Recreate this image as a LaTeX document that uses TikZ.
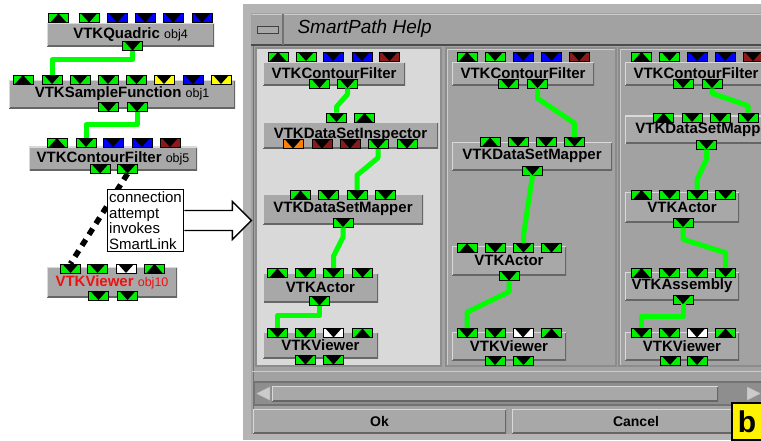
\documentclass[tikz,border=0pt]{standalone}
\usepackage{fontspec}
\setmainfont{Liberation Sans}

\definecolor{pgreen}{HTML}{00EE00}
\definecolor{wgreen}{HTML}{00FF00}
\definecolor{pblue}{HTML}{0000FF}
\definecolor{pyel}{HTML}{FFFF00}
\definecolor{pred}{HTML}{8B1A1A}
\definecolor{porng}{HTML}{FF8000}
\definecolor{modgray}{HTML}{A8A8A8}
\definecolor{wingray}{HTML}{A2A2A2}
\definecolor{lightpanel}{HTML}{D9D9D9}
\definecolor{framegray}{HTML}{B4B4B4}
\definecolor{troughgray}{HTML}{8E8E8E}
\definecolor{vred}{HTML}{F01010}

\newcommand{\objn}[1]{{\mdseries\fontsize{12.5}{13}\selectfont #1}}

\tikzset{
  port/.style={draw=black, line width=0.6pt, fill=#1, minimum width=20pt,
    minimum height=9pt, inner sep=0pt},
  pdn/.style={port=#1, path picture={\fill[black]
      ([xshift=2pt]path picture bounding box.north west) --
      ([xshift=-2pt]path picture bounding box.north east) --
      (path picture bounding box.south) -- cycle;}},
  pup/.style={port=#1, path picture={\fill[black]
      ([xshift=2pt]path picture bounding box.south west) --
      ([xshift=-2pt]path picture bounding box.south east) --
      (path picture bounding box.north) -- cycle;}},
  bevel/.style={path picture={
      \draw[line width=3pt, black!60] (path picture bounding box.south west) --
        (path picture bounding box.south east) -- (path picture bounding box.north east);
      \draw[line width=2pt, white!85!black] (path picture bounding box.south west) --
        (path picture bounding box.north west) -- (path picture bounding box.north east);}},
  module/.style 2 args={bevel, fill=modgray, minimum width=#1pt, minimum height=#2pt,
    inner sep=0pt, font=\fontsize{15}{16}\selectfont\bfseries},
  wire/.style={wgreen, line width=5pt, line join=round},
  note/.style={draw=black, line width=1.2pt, fill=white, align=left, inner sep=2pt,
    font=\fontsize{15}{15.5}\selectfont},
  bigarrow/.style={draw=black, line width=1.4pt, fill=white, line join=miter},
  btn/.style 2 args={module={#1}{#2}, font=\fontsize{14}{14}\selectfont\bfseries},
}

\begin{document}
\begin{tikzpicture}[x=1pt,y=-1pt]
  \useasboundingbox (0,0) rectangle (761,440);
  \fill[white] (0,0) rectangle (761,440);

  % SmartPath Help window
  \fill[framegray] (243,4) rectangle (775,440);
  \fill[wingray] (251,13) rectangle (775,434);
  \draw[white!80!black, line width=1pt] (252,14.5) -- (775,14.5);
  \draw[black!70, line width=2pt] (251,45) -- (775,45);
  \draw[black!55, line width=1.5pt] (283,14) -- (283,45);
  \filldraw[fill=modgray, draw=black!75, line width=1pt] (257,26) rectangle (278,33);
  \node[anchor=west, font=\fontsize{19}{20}\selectfont\itshape] (title) at (294,29) {SmartPath Help};
  \draw[black!55, line width=1pt] (253.5,46) -- (253.5,434);

  % the three path panels
  \filldraw[fill=lightpanel, draw=black!45, line width=1.2pt] (256,48) rectangle (441,366);
  \filldraw[fill=wingray, draw=black!45, line width=1.2pt] (446,48) rectangle (616,366);
  \draw[white!80!black] (447.5,365) |- (615,49.5);
  \filldraw[fill=wingray, draw=black!45, line width=1.2pt] (619,48) rectangle (775,366);
  \draw[white!80!black] (620.5,365) |- (775,49.5);

  % scroll bar and buttons
  \draw[white!80!black, line width=1pt] (252,371) -- (775,371);
  \filldraw[fill=troughgray, draw=black!55, line width=1.5pt] (254,382) rectangle (775,405);
  \filldraw[fill=modgray!60!white, draw=black!40] (256,393.5) -- (270,386.5) -- (270,400.5) -- cycle;
  \node[bevel, fill=modgray, minimum width=446pt, minimum height=15pt, inner sep=0pt] (slider) at (495,393.5) {};
  \filldraw[fill=modgray!60!white, draw=black!40] (747,386.5) -- (761,393.5) -- (747,400.5) -- cycle;
  \node[btn={253}{24}] (ok) at (379.5,421) {Ok};
  \node[btn={248}{24}] (cancel) at (636,421) {Cancel};
  \node[draw=black, line width=2pt, fill=yellow, minimum width=30pt, minimum height=37pt,
    inner sep=0pt, font=\fontsize{30}{30}\selectfont\bfseries] (blabel) at (747,421.5) {b};

  % panel 1
  \node[module={142}{23}] (p1cf) at (334,73.5) {VTKContourFilter};
  \node[module={175}{26}] (p1dsi) at (350.5,135) {VTKDataSetInspector};
  \node[module={160}{30}] (p1dsm) at (343,209) {VTKDataSetMapper};
  \node[module={115}{30}] (p1act) at (320.5,287.5) {VTKActor};
  \node[module={115}{26}] (p1view) at (320.5,345) {VTKViewer};
  \node[pup=pgreen] (p1cf-t1) at (278,56.5) {};   \node[pdn=pgreen] (p1cf-t2) at (306,56.5) {};
  \node[pdn=pblue] (p1cf-t3) at (333,56.5) {};    \node[pdn=pblue] (p1cf-t4) at (362,56.5) {};
  \node[pdn=pred] (p1cf-t5) at (389.5,56.5) {};
  \node[pdn=pgreen] (p1cf-b1) at (319.5,83.5) {}; \node[pdn=pgreen] (p1cf-b2) at (347.5,83.5) {};
  \node[pdn=pgreen] (p1dsi-t1) at (336.5,117.5) {}; \node[pup=pgreen] (p1dsi-t2) at (364.5,117.5) {};
  \node[pdn=porng] (p1dsi-b1) at (293,144) {};    \node[pdn=pred] (p1dsi-b2) at (322,144) {};
  \node[pdn=pred] (p1dsi-b3) at (350,144) {};     \node[pdn=pgreen] (p1dsi-b4) at (378,144) {};
  \node[pdn=pgreen] (p1dsi-b5) at (407,144) {};
  \node[pup=pgreen] (p1dsm-t1) at (300.5,195) {}; \node[pdn=pgreen] (p1dsm-t2) at (328.5,195) {};
  \node[pdn=pgreen] (p1dsm-t3) at (357,195) {};   \node[pdn=pgreen] (p1dsm-t4) at (385.5,195) {};
  \node[pdn=pgreen] (p1dsm-b1) at (343,222.5) {};
  \node[pup=pgreen] (p1act-t1) at (277.5,273) {}; \node[pdn=pgreen] (p1act-t2) at (305.5,273) {};
  \node[pdn=pgreen] (p1act-t3) at (333.5,273) {}; \node[pdn=pgreen] (p1act-t4) at (362.5,273) {};
  \node[pdn=pgreen] (p1act-b1) at (319.5,301) {};
  \node[pdn=pgreen] (p1view-t1) at (277.5,333) {}; \node[pdn=pgreen] (p1view-t2) at (305.5,333) {};
  \node[pdn=white] (p1view-t3) at (333.5,333) {};  \node[pup=pgreen] (p1view-t4) at (362.5,333) {};
  \node[pdn=pgreen] (p1view-b1) at (305.5,360) {}; \node[pdn=pgreen] (p1view-b2) at (333.5,360) {};
  \draw[wire] (p1cf-b2.south) -- ++(0,6) -- ([yshift=6pt]p1dsi-t1.north) -- (p1dsi-t1.north);
  \draw[wire] (p1dsi-b4.south) -- ++(0,9) -- ([yshift=15pt]p1dsm-t3.north) -- (p1dsm-t3.north);
  \draw[wire] (p1dsm-b1.south) -- ++(0,10) -- ([yshift=12pt]p1act-t3.north) -- (p1act-t3.north);
  \draw[wire] (p1act-b1.south) -- ++(0,10) -| (p1view-t1.north);

  % panel 2
  \node[module={142}{23}] (p2cf) at (523,73.5) {VTKContourFilter};
  \node[module={160}{28}] (p2dsm) at (532,156) {VTKDataSetMapper};
  \node[module={114}{29}] (p2act) at (509,260.5) {VTKActor};
  \node[module={114}{28}] (p2view) at (509,346) {VTKViewer};
  \node[pup=pgreen] (p2cf-t1) at (467,56.5) {};   \node[pdn=pgreen] (p2cf-t2) at (495,56.5) {};
  \node[pdn=pblue] (p2cf-t3) at (523,56.5) {};    \node[pdn=pblue] (p2cf-t4) at (551.5,56.5) {};
  \node[pdn=pred] (p2cf-t5) at (579,56.5) {};
  \node[pdn=pgreen] (p2cf-b1) at (508.5,83.5) {}; \node[pdn=pgreen] (p2cf-b2) at (537.5,83.5) {};
  \node[pup=pgreen] (p2dsm-t1) at (490,142) {};   \node[pdn=pgreen] (p2dsm-t2) at (518,142) {};
  \node[pdn=pgreen] (p2dsm-t3) at (546,142) {};   \node[pdn=pgreen] (p2dsm-t4) at (574.5,142) {};
  \node[pdn=pgreen] (p2dsm-b1) at (532.5,170.5) {};
  \node[pup=pgreen] (p2act-t1) at (467,248) {};   \node[pdn=pgreen] (p2act-t2) at (495,248) {};
  \node[pdn=pgreen] (p2act-t3) at (523.5,248) {}; \node[pdn=pgreen] (p2act-t4) at (551.5,248) {};
  \node[pdn=pgreen] (p2act-b1) at (509,276) {};
  \node[pdn=pgreen] (p2view-t1) at (467,333) {};  \node[pdn=pgreen] (p2view-t2) at (495,333) {};
  \node[pdn=white] (p2view-t3) at (523,333) {};   \node[pup=pgreen] (p2view-t4) at (551.5,333) {};
  \node[pdn=pgreen] (p2view-b1) at (495,360.5) {}; \node[pdn=pgreen] (p2view-b2) at (523.5,360.5) {};
  \draw[wire] (p2cf-b2.south) -- ++(0,10) -- ([yshift=14pt]p2dsm-t4.north) -- (p2dsm-t4.north);
  \draw[wire] (p2dsm-b1.south) -- ([yshift=8pt]p2act-t3.north) -- (p2act-t3.north);
  \draw[wire] (p2act-b1.south) -- ++(0,11) -- ([yshift=16pt]p2view-t1.north) -- (p2view-t1.north);

  % panel 3
  \node[module={142}{23}] (p3cf) at (696,73.5) {VTKContourFilter};
  \node[module={160}{28}] (p3dsm) at (705,129.5) {VTKDataSetMapper};
  \node[module={114}{30}] (p3act) at (682,207) {VTKActor};
  \node[module={114}{28}] (p3asm) at (682,286) {VTKAssembly};
  \node[module={114}{28}] (p3view) at (682,346) {VTKViewer};
  \node[pup=pgreen] (p3cf-t1) at (641.5,56.5) {}; \node[pdn=pgreen] (p3cf-t2) at (669.5,56.5) {};
  \node[pdn=pblue] (p3cf-t3) at (697,56.5) {};    \node[pdn=pblue] (p3cf-t4) at (725,56.5) {};
  \node[pdn=pred] (p3cf-t5) at (753,56.5) {};
  \node[pdn=pgreen] (p3cf-b1) at (683,83.5) {};   \node[pdn=pgreen] (p3cf-b2) at (712,83.5) {};
  \node[pup=pgreen] (p3dsm-t1) at (663.5,117.5) {}; \node[pdn=pgreen] (p3dsm-t2) at (692,117.5) {};
  \node[pdn=pgreen] (p3dsm-t3) at (720,117.5) {};   \node[pdn=pgreen] (p3dsm-t4) at (748,117.5) {};
  \node[pdn=pgreen] (p3dsm-b1) at (706.5,144.5) {};
  \node[pup=pgreen] (p3act-t1) at (641.5,194.5) {}; \node[pdn=pgreen] (p3act-t2) at (669.5,194.5) {};
  \node[pdn=pgreen] (p3act-t3) at (697,194.5) {};   \node[pdn=pgreen] (p3act-t4) at (725.5,194.5) {};
  \node[pdn=pgreen] (p3act-b1) at (683,222.5) {};
  \node[pup=pgreen] (p3asm-t1) at (641.5,272.5) {}; \node[pdn=pgreen] (p3asm-t2) at (669.5,272.5) {};
  \node[pdn=pgreen] (p3asm-t3) at (697,272.5) {};   \node[pdn=pgreen] (p3asm-t4) at (725.5,272.5) {};
  \node[pdn=pgreen] (p3asm-b1) at (683,299.5) {};
  \node[pdn=pgreen] (p3view-t1) at (641.5,333) {};  \node[pdn=pgreen] (p3view-t2) at (669.5,333) {};
  \node[pdn=white] (p3view-t3) at (697,333) {};     \node[pup=pgreen] (p3view-t4) at (725.5,333) {};
  \node[pdn=pgreen] (p3view-b1) at (670,360.5) {};  \node[pdn=pgreen] (p3view-b2) at (697,360.5) {};
  \draw[wire] (p3cf-b2.south) -- ++(0,5) -- ([yshift=7pt]p3dsm-t4.north) -- (p3dsm-t4.north);
  \draw[wire] (p3dsm-b1.south) -- ++(0,10) -- ([yshift=10pt]p3act-t3.north) -- (p3act-t3.north);
  \draw[wire] (p3act-b1.south) -- ++(0,12) -- ([yshift=15pt]p3asm-t4.north) -- (p3asm-t4.north);
  \draw[wire] (p3asm-b1.south) -- ++(0,12) -| (p3view-t1.north);

  % network on the left
  \node[module={167}{23}] (lquad) at (130.5,34.5) {VTKQuadric \objn{obj4}};
  \node[module={226}{28}] (lsamp) at (122,94) {VTKSampleFunction \objn{obj1}};
  \node[module={168}{24}] (lcont) at (113,158.5) {VTKContourFilter \objn{obj5}};
  \node[module={130}{30}, text=vred] (lview) at (112,282) {VTKViewer \objn{obj10}};
  \node[pup=pgreen] (lq-t1) at (58.5,18) {};  \node[pdn=pgreen] (lq-t2) at (89,18) {};
  \node[pdn=pblue] (lq-t3) at (117,18) {};    \node[pdn=pblue] (lq-t4) at (145,18) {};
  \node[pdn=pblue] (lq-t5) at (173,18) {};    \node[pdn=pblue] (lq-t6) at (202,18) {};
  \node[pdn=pgreen] (lq-b1) at (132.5,46) {};
  \node[pup=pgreen] (ls-t1) at (23,79.5) {};  \node[pdn=pgreen] (ls-t2) at (52,79.5) {};
  \node[pdn=pgreen] (ls-t3) at (80,79.5) {};  \node[pdn=pgreen] (ls-t4) at (108,79.5) {};
  \node[pdn=pgreen] (ls-t5) at (136.5,79.5) {}; \node[pdn=pyel] (ls-t6) at (164,79.5) {};
  \node[pdn=pblue] (ls-t7) at (193,79.5) {};  \node[pdn=pyel] (ls-t8) at (221,79.5) {};
  \node[pdn=pgreen] (ls-b1) at (108.5,107) {}; \node[pdn=pgreen] (ls-b2) at (137,107) {};
  \node[pup=pgreen] (lc-t1) at (57,142.5) {}; \node[pdn=pgreen] (lc-t2) at (86,142.5) {};
  \node[pdn=pblue] (lc-t3) at (113,142.5) {}; \node[pdn=pblue] (lc-t4) at (142,142.5) {};
  \node[pdn=pred] (lc-t5) at (170,142.5) {};
  \node[pdn=pgreen] (lc-b1) at (100,169) {};  \node[pdn=pgreen] (lc-b2) at (127.5,169) {};
  \node[pdn=pgreen] (lv-t1) at (70.5,268.5) {}; \node[pdn=pgreen] (lv-t2) at (97.5,268.5) {};
  \node[pdn=white] (lv-t3) at (126,268.5) {};   \node[pup=pgreen] (lv-t4) at (154.5,268.5) {};
  \node[pdn=pgreen] (lv-b1) at (98.5,295.5) {}; \node[pdn=pgreen] (lv-b2) at (127.5,295.5) {};
  \draw[wire] (lq-b1.south) -- ++(0,9) -| (ls-t2.north);
  \draw[wire] (ls-b2.south) -- ++(0,13) -| (lc-t2.north);
  \draw[line width=5.5pt, dash pattern=on 7pt off 6pt] (lc-b2.south) -- (lv-t1.north);

  \node[note] (note) at (145.5,220.5) {connection\\attempt\\invokes\\SmartLink};
  \filldraw[bigarrow] ([yshift=10pt]note.east) -- ++(48,0) -- ++(0,-9) -- ++(19,19)
    -- ++(-19,19) -- ++(0,-9) -- ++(-48,0);
\end{tikzpicture}
\end{document}
